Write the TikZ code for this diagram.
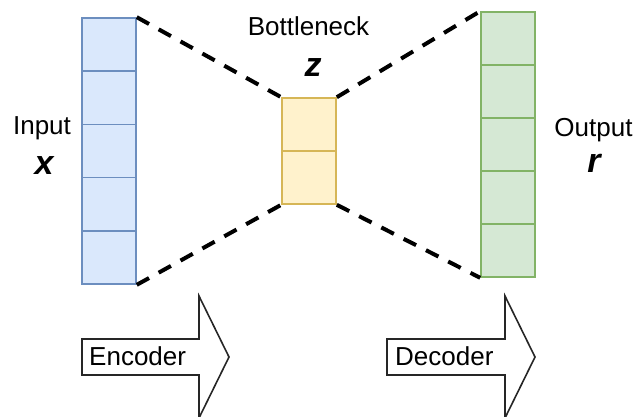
\documentclass[tikz,border=0pt]{standalone}
\usepackage{fontspec}
\setmainfont{Liberation Sans}
\definecolor{blueFill}{HTML}{DAE8FC}
\definecolor{blueLine}{HTML}{6C8EBF}
\definecolor{yellowFill}{HTML}{FFF2CC}
\definecolor{yellowLine}{HTML}{D6B656}
\definecolor{greenFill}{HTML}{D5E8D4}
\definecolor{greenLine}{HTML}{82B366}
\tikzset{
  cell/.style={rectangle, inner sep=0pt, line width=1.6pt, minimum width=54pt, minimum height=53.2pt},
  incell/.style={cell, fill=blueFill, draw=blueLine},
  zcell/.style={cell, fill=yellowFill, draw=yellowLine, minimum height=53pt},
  outcell/.style={cell, fill=greenFill, draw=greenLine, minimum height=53pt},
  link/.style={line width=4pt, dash pattern=on 14pt off 11pt},
  lbl/.style={inner sep=0pt, font=\fontsize{26}{30}\selectfont, anchor=base},
  var/.style={inner sep=0pt, font=\fontsize{34}{38}\selectfont\bfseries\itshape, anchor=base},
  flow/.style={draw=black!85, line width=1.6pt, fill=white, line join=miter}
}
\begin{document}
\begin{tikzpicture}[x=1pt, y=-1pt]
  \useasboundingbox (0,0) rectangle (636,416);
  \clip (0,0) rectangle (636,416);

  % input vector
  \foreach \i in {1,...,5} {
    \node[incell] (in\i) at (109, {18 + 53.2*(\i-0.5)}) {};
  }
  % bottleneck vector
  \foreach \i in {1,2} {
    \node[zcell] (bn\i) at (309, {98 + 53*(\i-0.5)}) {};
  }
  % output vector
  \foreach \i in {1,...,5} {
    \node[outcell] (out\i) at (508, {12 + 53*(\i-0.5)}) {};
  }

  % funnel outlines
  \draw[link] (in1.north east) -- (bn1.north west);
  \draw[link] (in5.south east) -- (bn2.south west);
  \draw[link] (bn1.north east) -- (out1.north west);
  \draw[link] (bn2.south east) -- (out5.south west);

  % labels
  \node[lbl] (inlbl) at (42,134) {Input};
  \node[var] (xvar) at (44,174) {x};
  \node[lbl] (bnlbl) at (308.5,35) {Bottleneck};
  \node[var] (zvar) at (313,76) {z};
  \node[lbl] (outlbl) at (593.5,136) {Output};
  \node[var] (rvar) at (594,172) {r};

  % encoder / decoder block arrows
  \draw[flow] (82,339) -- (199,339) -- (199,296) -- (229,357) -- (199,418)
    -- (199,375) -- (82,375) -- cycle;
  \node[lbl, anchor=base west] (enc) at (89,365) {Encoder};
  \draw[flow] (387,339) -- (505,339) -- (505,296) -- (535,357) -- (505,418)
    -- (505,375) -- (387,375) -- cycle;
  \node[lbl, anchor=base west] (dec) at (395,365) {Decoder};
\end{tikzpicture}
\end{document}
